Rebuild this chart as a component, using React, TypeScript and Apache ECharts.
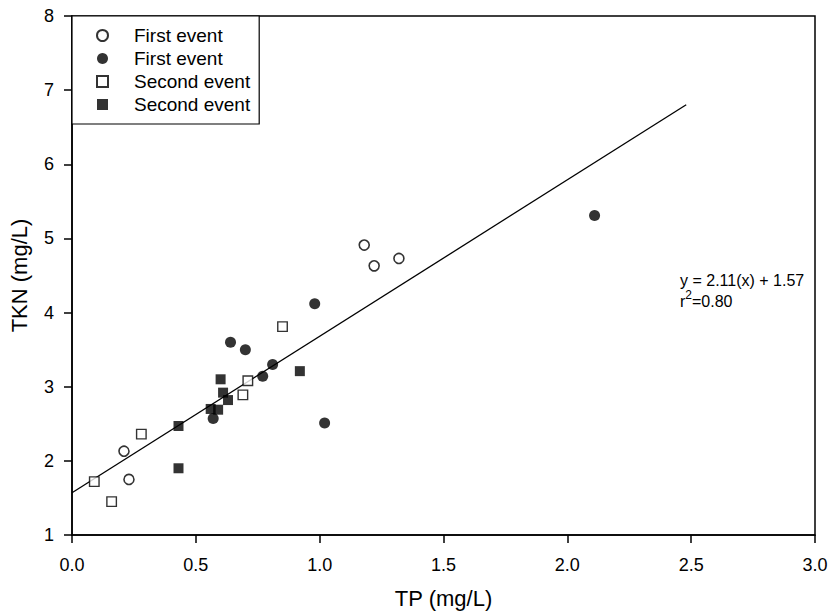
import React, { useEffect, useRef } from "react";
import * as echarts from "echarts";

// First event (open circles)
const firstOpen: [number, number][] = [
  [1.18, 4.91], [1.22, 4.63], [1.32, 4.73], [0.21, 2.13], [0.23, 1.75],
];
// First event (filled circles)
const firstFilled: [number, number][] = [
  [2.11, 5.31], [0.98, 4.12], [0.64, 3.6], [0.7, 3.5], [0.81, 3.3],
  [0.77, 3.14], [0.57, 2.57], [1.02, 2.51],
];
// Second event (open squares)
const secondOpen: [number, number][] = [
  [0.85, 3.81], [0.71, 3.08], [0.69, 2.89], [0.28, 2.36], [0.09, 1.72], [0.16, 1.45],
];
// Second event (filled squares)
const secondFilled: [number, number][] = [
  [0.92, 3.21], [0.6, 3.1], [0.61, 2.92], [0.63, 2.82], [0.56, 2.7],
  [0.59, 2.69], [0.43, 2.47], [0.43, 1.9],
];

const slope = 2.11;
const intercept = 1.57;
const fitRange: [number, number] = [0, 2.48];
const xTicks = [0, 0.5, 1, 1.5, 2, 2.5, 3];
const yTicks = [1, 2, 3, 4, 5, 6, 7, 8];

const FONT = "'Liberation Sans', Arial, sans-serif";

export default function App() {
  const ref = useRef<HTMLDivElement>(null);
  useEffect(() => {
    if (!ref.current) return;
    document.body.style.margin = "0";
    const chart = echarts.init(ref.current, undefined, { renderer: "svg" });
    const fitLine = fitRange.map((x) => [x, slope * x + intercept]);
    chart.setOption({
      animation: false,
      backgroundColor: "#fff",
      textStyle: { fontFamily: FONT },
      grid: {
        left: 72,
        right: 18,
        top: 16,
        bottom: 79,
        show: true,
        borderColor: "#000",
        borderWidth: 1.5,
        containLabel: false,
        outerBoundsMode: "none",
      },
      legend: {
        orient: "vertical",
        left: 72,
        top: 16,
        data: ["First event (open)", "First event (filled)", "Second event (open)", "Second event (filled)"],
        formatter: (n: string) => (n.startsWith("First") ? "First event" : "Second event"),
        itemWidth: 11,
        itemHeight: 11,
        itemGap: 4,
        padding: [10, 9, 10, 24],
        borderColor: "#000",
        borderWidth: 1.2,
        backgroundColor: "#fff",
        textStyle: { fontSize: 19, lineHeight: 19, color: "#000", fontFamily: FONT, padding: [0, 0, 0, 21] },
        selectedMode: false,
      },
      xAxis: {
        type: "value",
        min: 0,
        max: 3,
        interval: 0.5,
        name: "TP (mg/L)",
        nameLocation: "middle",
        nameGap: 52,
        nameTextStyle: { fontSize: 22, color: "#000", fontFamily: FONT },
        axisLine: { lineStyle: { color: "#000", width: 1.5 } },
        axisTick: { show: true, inside: false, length: 8, lineStyle: { color: "#000", width: 1.5 } },
        axisLabel: {
          fontSize: 18,
          color: "#000",
          margin: 21,
          fontFamily: FONT,
          formatter: (v: number) => (xTicks.includes(v) ? v.toFixed(1) : ""),
        },
        splitLine: { show: false },
      },
      yAxis: {
        type: "value",
        min: 1,
        max: 8,
        interval: 1,
        name: "TKN (mg/L)",
        nameLocation: "middle",
        nameGap: 42,
        nameTextStyle: { fontSize: 22, color: "#000", fontFamily: FONT },
        axisLine: { lineStyle: { color: "#000", width: 1.5 } },
        axisTick: { show: true, inside: false, length: 8, lineStyle: { color: "#000", width: 1.5 } },
        axisLabel: {
          fontSize: 18,
          color: "#000",
          margin: 18,
          fontFamily: FONT,
          formatter: (v: number) => (yTicks.includes(v) ? String(v) : ""),
        },
        splitLine: { show: false },
      },
      series: [
        {
          name: "fit",
          type: "line",
          data: fitLine,
          symbol: "none",
          lineStyle: { color: "#000", width: 1.3 },
          z: 1,
          silent: true,
        },
        {
          name: "First event (open)",
          type: "scatter",
          data: firstOpen,
          symbol: "circle",
          symbolSize: 10,
          itemStyle: { color: "#fff", borderColor: "#000", borderWidth: 1.6 },
          z: 3,
        },
        {
          name: "First event (filled)",
          type: "scatter",
          data: firstFilled,
          symbol: "circle",
          symbolSize: 11,
          itemStyle: { color: "#000", borderColor: "#000", borderWidth: 0 },
          z: 3,
        },
        {
          name: "Second event (open)",
          type: "scatter",
          data: secondOpen,
          symbol: "rect",
          symbolSize: 9.5,
          itemStyle: { color: "#fff", borderColor: "#000", borderWidth: 1.4 },
          z: 3,
        },
        {
          name: "Second event (filled)",
          type: "scatter",
          data: secondFilled,
          symbol: "rect",
          symbolSize: 10,
          itemStyle: { color: "#000", borderColor: "#000", borderWidth: 0 },
          z: 3,
        },
      ],
      graphic: [
        {
          type: "text",
          left: 680,
          top: 272,
          style: {
            text: "y = 2.11(x) + 1.57",
            font: `16px ${FONT}`,
            fill: "#000",
          },
        },
        {
          type: "text",
          left: 680,
          top: 289,
          style: {
            text: "{a|r}{s|2}{a|=0.80}",
            fill: "#000",
            rich: {
              a: { fontSize: 16, fontFamily: FONT, color: "#000", verticalAlign: "bottom", lineHeight: 20 },
              s: { fontSize: 12, fontFamily: FONT, color: "#000", verticalAlign: "top", lineHeight: 20, padding: [0, 0, 9, 0] },
            },
          },
        },
      ],
    });
    return () => chart.dispose();
  }, []);
  return <div ref={ref} style={{ width: 833, height: 614 }} />;
}
